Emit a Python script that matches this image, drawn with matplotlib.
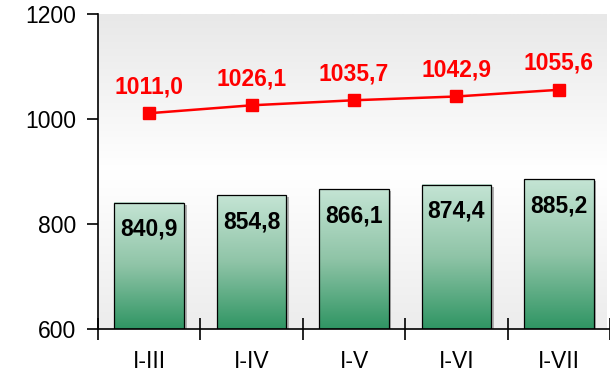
import numpy as np
import matplotlib.pyplot as plt
from matplotlib.colors import LinearSegmentedColormap
from matplotlib.patches import Rectangle

plt.rcParams['font.family'] = ['Liberation Sans', 'DejaVu Sans']

periods = ["I-III", "I-IV", "I-V", "I-VI", "I-VII"]
bar_values = [840.9, 854.8, 866.1, 874.4, 885.2]
line_values = [1011.0, 1026.1, 1035.7, 1042.9, 1055.6]


def fmt(v):
    return f"{v:.1f}".replace(".", ",")


fig = plt.figure(figsize=(6.1, 3.72), dpi=100)
ax = fig.add_axes([98 / 610, 43 / 372, 512 / 610, 315 / 372])

ymin, ymax = 600, 1200
xmin, xmax = -0.5, 4.47
x = np.arange(len(periods))

# soft gray-white-gray background
bg = LinearSegmentedColormap.from_list("bg", ["#e8e8e8", "#ffffff", "#ececec"])
ax.imshow(np.linspace(0, 1, 256).reshape(-1, 1), cmap=bg, aspect="auto",
          extent=(xmin, xmax, ymin, ymax), origin="upper", zorder=0)

# bars with vertical green gradient
green = LinearSegmentedColormap.from_list("green", ["#c4e4d4", "#8fc4a7", "#2f9563"])
width = 0.68
for xi, v in zip(x, bar_values):
    x0, x1 = xi - width / 2, xi + width / 2
    ax.add_patch(Rectangle((x0 + 0.025, ymin), width, v - ymin - 4,
                           facecolor="#b0b0b0", edgecolor="none", zorder=1))
    ax.imshow(np.linspace(0, 1, 256).reshape(-1, 1), cmap=green, aspect="auto",
              extent=(x0, x1, ymin, v), origin="upper", zorder=2)
    ax.add_patch(Rectangle((x0, ymin), width, v - ymin, facecolor="none",
                           edgecolor="black", linewidth=0.9, zorder=3))
    ax.annotate(fmt(v), (xi, v), xytext=(0, -19), textcoords="offset points",
                ha="center", va="center", fontsize=16.5, fontweight="bold",
                color="black", zorder=5)

ax.plot(x, line_values, color="#ff0000", linewidth=1.8, marker="s",
        markersize=8.5, zorder=4)
for xi, v in zip(x, line_values):
    ax.annotate(fmt(v), (xi, v), xytext=(0, 19), textcoords="offset points",
                ha="center", va="center", fontsize=16.5, fontweight="bold",
                color="#ff0000", zorder=5)

ax.set_xlim(xmin, xmax)
ax.set_ylim(ymin, ymax)

ax.set_yticks([600, 800, 1000, 1200])
ax.tick_params(axis="y", direction="out", length=8, width=1.2,
               labelsize=16.5, pad=8)

ax.set_xticks(x)
ax.set_xticklabels(periods)
ax.set_xticks(np.arange(-0.5, 5.0, 1.0), minor=True)
ax.tick_params(axis="x", which="major", length=0, labelsize=16.5, pad=15)
ax.tick_params(axis="x", which="minor", direction="inout", length=16, width=1.2)

for side in ("top", "right"):
    ax.spines[side].set_visible(False)
for side in ("left", "bottom"):
    ax.spines[side].set_linewidth(1.2)

fig.savefig("out.png", dpi=100)
